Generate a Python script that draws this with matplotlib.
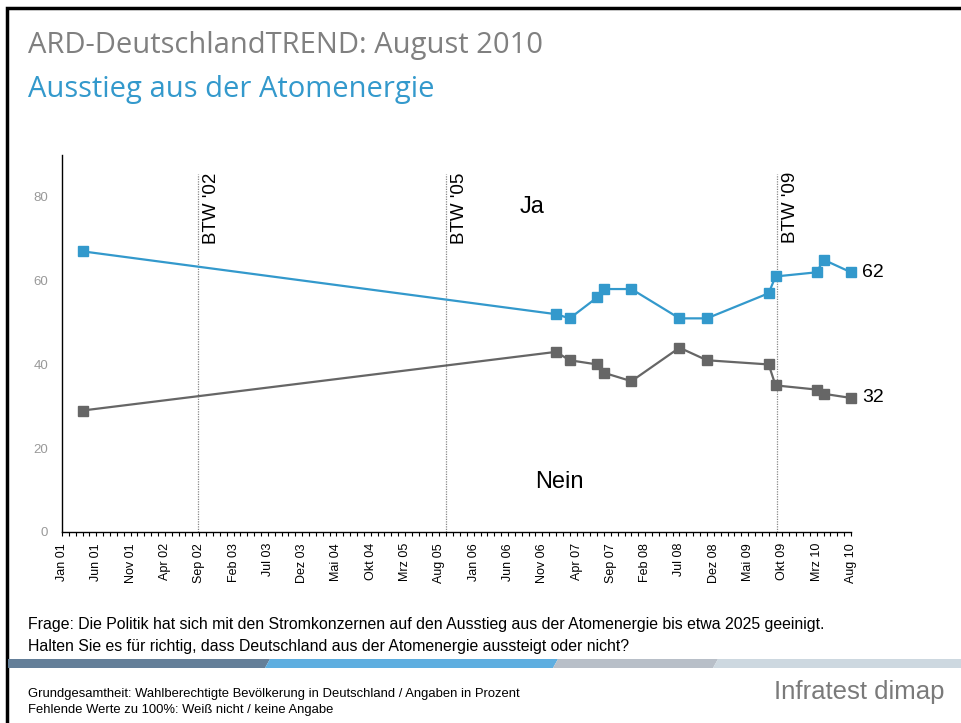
import matplotlib.pyplot as plt
from matplotlib.patches import Rectangle, Polygon

# Monatsindex: 0 = Jan 01
months = [3, 72, 74, 78, 79, 83, 90, 94, 103, 104, 110, 111, 115]
ja = [67, 52, 51, 56, 58, 58, 51, 51, 57, 61, 62, 65, 62]
nein = [29, 43, 41, 40, 38, 36, 44, 41, 40, 35, 34, 33, 32]

tick_labels = ["Jan 01", "Jun 01", "Nov 01", "Apr 02", "Sep 02", "Feb 03", "Jul 03",
               "Dez 03", "Mai 04", "Okt 04", "Mrz 05", "Aug 05", "Jan 06", "Jun 06",
               "Nov 06", "Apr 07", "Sep 07", "Feb 08", "Jul 08", "Dez 08", "Mai 09",
               "Okt 09", "Mrz 10", "Aug 10"]
btw_pos = [19.8, 56.0, 104.2]
btw_labels = ["BTW '02", "BTW '05", "BTW '09"]

blue = '#3399cc'
grey = '#666666'
W, H = 962, 723

plt.rcParams['font.family'] = ['Liberation Sans', 'DejaVu Sans']
fig = plt.figure(figsize=(W / 100, H / 100), dpi=100)

# Rahmen links/oben
fig.patches.append(Rectangle((7 / W, -0.1), 2.0, 1.1 - 8 / H, transform=fig.transFigure,
                             fill=False, edgecolor='black', linewidth=2.5))

fig.text(28 / W, 1 - 46 / H, "ARD-DeutschlandTREND: August 2010", color='#808080',
         fontsize=21, va='center', family=['Open Sans', 'DejaVu Sans'])
fig.text(28 / W, 1 - 89 / H, "Ausstieg aus der Atomenergie", color=blue,
         fontsize=21, va='center', family=['Open Sans', 'DejaVu Sans'])

ax = fig.add_axes([62 / W, 1 - 532 / H, (851 - 62) / W, (532 - 155) / H])
ax.set_xlim(0, 115)
ax.set_ylim(0, 90)

for p, lab in zip(btw_pos, btw_labels):
    ax.plot([p, p], [0, 85.5], color='#888888', linestyle=(0, (1, 1)), linewidth=0.9)
    ax.text(p + 0.7, 85.9, lab, rotation=90, ha='left', va='top', fontsize=13.5)

ax.plot(months, ja, color=blue, linewidth=1.6, marker='s', markersize=6.5, clip_on=False)
ax.plot(months, nein, color=grey, linewidth=1.6, marker='s', markersize=6.5, clip_on=False)

ax.text(months[-1] + 1.6, ja[-1], str(ja[-1]), fontsize=14, va='center')
ax.text(months[-1] + 1.6, nein[-1], str(nein[-1]), fontsize=14, va='center')
ax.text(68.5, 77.5, "Ja", fontsize=17, ha='center', va='center')
ax.text(72.5, 12, "Nein", fontsize=17, ha='center', va='center')

ax.set_xticks(range(0, 116, 5))
ax.set_xticklabels(tick_labels, rotation=90, fontsize=9)
ax.set_xticks(range(0, 116), minor=True)
ax.tick_params(axis='x', which='both', length=3, width=0.8, direction='out', pad=5)
ax.set_yticks([0, 20, 40, 60, 80])
ax.tick_params(axis='y', length=0, labelsize=9.5, labelcolor='#999999', pad=10)
for s in ['top', 'right']:
    ax.spines[s].set_visible(False)
ax.spines['left'].set_linewidth(1)
ax.spines['bottom'].set_linewidth(1)

fig.text(28 / W, 1 - 625 / H, "Frage: Die Politik hat sich mit den Stromkonzernen auf den Ausstieg aus der Atomenergie bis etwa 2025 geeinigt.",
         fontsize=11.4, va='center')
fig.text(28 / W, 1 - 646 / H, "Halten Sie es für richtig, dass Deutschland aus der Atomenergie aussteigt oder nicht?",
         fontsize=11.4, va='center')

# Farbband
bands = [(8, 265, '#647f99'), (265, 553, '#5eaee0'), (553, 713, '#b8bfc8'), (713, 970, '#cdd8e0')]
y0, y1 = 1 - 668 / H, 1 - 659 / H
for i, (a, b, c) in enumerate(bands):
    sa = 0 if i == 0 else 5
    fig.patches.append(Polygon([(a / W, y0), ((a + sa) / W, y1), ((b + 5) / W, y1), (b / W, y0)],
                               closed=True, transform=fig.transFigure, facecolor=c, edgecolor='none'))

fig.text(28 / W, 1 - 694 / H, "Grundgesamtheit: Wahlberechtigte Bevölkerung in Deutschland / Angaben in Prozent",
         fontsize=9.4, va='center')
fig.text(28 / W, 1 - 710 / H, "Fehlende Werte zu 100%: Weiß nicht / keine Angabe",
         fontsize=9.4, va='center')
fig.text(945 / W, 1 - 692 / H, "Infratest dimap", fontsize=18.5, color='#7a7a7a',
         ha='right', va='center')

fig.savefig('out.png', dpi=100)
